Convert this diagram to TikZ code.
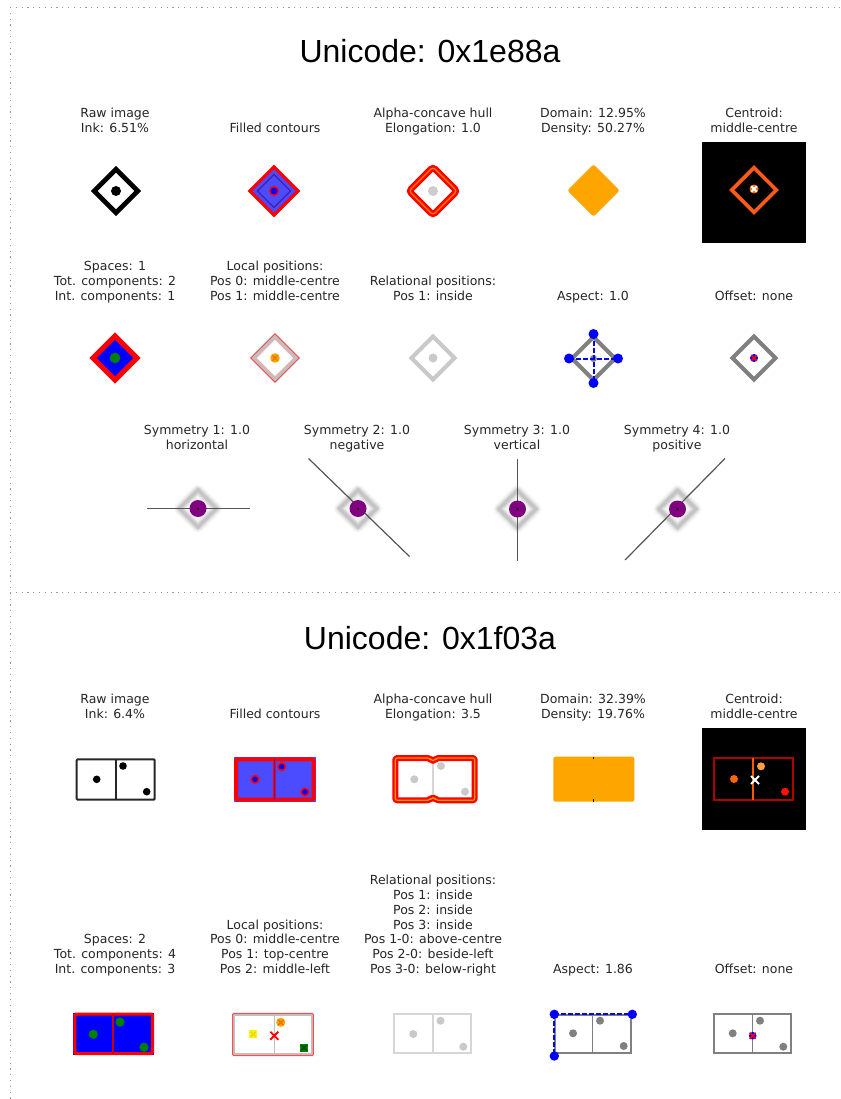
\documentclass[tikz,border=0pt]{standalone}
\usepackage{fontspec}
\setmainfont{DejaVu Sans}
\newfontfamily\titlefont{Liberation Sans}
\definecolor{txt}{HTML}{262626}
\definecolor{mblue}{HTML}{4B4BFF}
\definecolor{navy}{HTML}{4A1EAA}
\definecolor{orng}{HTML}{FFA500}
\definecolor{dorng}{HTML}{E07800}
\definecolor{purp}{HTML}{800080}
\definecolor{grn}{HTML}{008000}
\definecolor{lgray}{HTML}{C0C0C0}
\definecolor{vlgray}{HTML}{D6D6D6}
\definecolor{mgray}{HTML}{808080}
\definecolor{linegray}{HTML}{555555}
\definecolor{ored}{HTML}{FF5A1A}
\definecolor{dotline}{HTML}{9A9A9A}
\newcommand\dia[4][]{\draw[#1] (#2-#4,#3) -- (#2,#3-#4) -- (#2+#4,#3) -- (#2,#3+#4) -- cycle;}
\newcommand\xmk[4][]{\draw[#1] (#2-#4,#3-#4) -- (#2+#4,#3+#4) (#2-#4,#3+#4) -- (#2+#4,#3-#4);}
\newcommand\lblfont{\fontsize{12.5}{14.8}\selectfont}
\newcommand\blurdia[2]{%
  \dia[gray!8,line width=11,line join=round]{#1}{#2}{18.5}
  \dia[gray!18,line width=8,line join=round]{#1}{#2}{18.5}
  \dia[gray!32,line width=5.5,line join=round]{#1}{#2}{18.5}
  \dia[gray!46,line width=3]{#1}{#2}{18.5}}
\begin{document}
\begin{tikzpicture}[x=1pt,y=-1pt,
  lbl/.style={font=\lblfont, text=txt, align=center, inner sep=0pt, anchor=south},
  ttl/.style={font=\titlefont\fontsize{32}{36}\selectfont, inner sep=0pt, anchor=base},
  border/.style={dotline, line width=0.8, dash pattern=on 1.2pt off 4.6pt}]
\useasboundingbox (0,0) rectangle (840,1099);
\fill[white] (0,0) rectangle (840,1099);
% borders
\coordinate (tl) at (10,7);
\coordinate (tr) at (840,7);
\coordinate (bl) at (10,1099);
\coordinate (sl) at (10,592);
\coordinate (sr) at (840,592);
\draw[border] (tl) -- (tr);
\draw[border] (tl) -- (bl);
\draw[border] (sl) -- (sr);

% ================= SECTION 1 =================
\node[ttl] (t1) at (430,62.3) {Unicode: 0x1e88a};

% row 1 labels
\node[lbl] (a1) at (115,136.9) {Raw image\\Ink: 6.51\%\strut};
\node[lbl] (a2) at (275,136.9) {Filled contours\strut};
\node[lbl] (a3) at (433,136.9) {Alpha-concave hull\\Elongation: 1.0\strut};
\node[lbl] (a4) at (593,136.9) {Domain: 12.95\%\\Density: 50.27\%\strut};
\node[lbl] (a5) at (754,136.9) {Centroid:\\middle-centre\strut};

% raw image
\dia[black,line width=4.8]{116}{191}{21.8}
\fill[black] (116,191) circle (5);
% filled contours
\dia[fill=mblue,draw=red,line width=3.2]{274}{191}{24.2}
\dia[navy,line width=1.4]{274}{191}{16.5}
\filldraw[fill=blue,draw=red,line width=1.5] (274,191) circle (4.3);
% alpha hull
\dia[red,line width=6.5,rounded corners=3]{433}{191}{24}
\dia[orange,line width=1.3,rounded corners=3]{433}{191}{24}
\fill[lgray!80] (433,191) circle (5);
% domain
\dia[fill=orng,draw=orng,line width=1,rounded corners=2]{593.5}{190.5}{25.5}
% centroid
\fill[black] (702,142) rectangle (805.5,243);
\dia[ored,line width=3.6]{754}{190}{22.3}
\fill[orange!90!red] (754,189) circle (4.5);
\xmk[white,line width=1.8]{754}{189}{2.8}

% row 2 labels
\node[lbl] (b1) at (115,304.7) {Spaces: 1\\Tot. components: 2\\Int. components: 1\strut};
\node[lbl] (b2) at (275,304.7) {Local positions:\\Pos 0: middle-centre\\Pos 1: middle-centre\strut};
\node[lbl] (b3) at (433,304.7) {Relational positions:\\Pos 1: inside\strut};
\node[lbl] (b4) at (593,304.7) {Aspect: 1.0\strut};
\node[lbl] (b5) at (754,304.7) {Offset: none\strut};

% spaces
\dia[fill=blue,draw=red,line width=5]{115}{358}{22}
\fill[grn] (115,358) circle (5.3);
% local positions
\dia[lgray,line width=4]{275}{358}{21.5}
\dia[red!75,line width=0.9]{275}{358}{24.3}
\dia[red!35,line width=0.6]{275}{358}{18.7}
\fill[orng] (275,358) circle (4.8);
\xmk[dorng,line width=1.4]{275}{358}{2.6}
% relational
\dia[lgray!85,line width=4]{433}{358}{21.5}
\fill[lgray!85] (433,358) circle (4.5);
% aspect
\dia[mgray,line width=4]{593.5}{358.5}{21.5}
\fill[mgray] (593.5,358.5) circle (3.5);
\coordinate (aspL) at (569,358.5);
\coordinate (aspR) at (618,358.5);
\coordinate (aspT) at (593.5,334);
\coordinate (aspB) at (593.5,383);
\draw[blue,line width=2,dash pattern=on 4.5pt off 2.5pt] (aspL) -- (aspR);
\draw[blue,line width=2,dash pattern=on 4.5pt off 2.5pt] (aspT) -- (aspB);
\foreach \p in {aspL,aspR,aspT,aspB} \fill[blue] (\p) circle (5);
% offset
\dia[mgray,line width=4]{754}{358}{21.5}
\fill[blue] (754,358) circle (4);
\xmk[red,line width=1.5]{754}{358}{2.8}

% symmetry labels
\node[lbl] (c1) at (197,453.9) {Symmetry 1: 1.0\\horizontal\strut};
\node[lbl] (c2) at (357,453.9) {Symmetry 2: 1.0\\negative\strut};
\node[lbl] (c3) at (517,453.9) {Symmetry 3: 1.0\\vertical\strut};
\node[lbl] (c4) at (677,453.9) {Symmetry 4: 1.0\\positive\strut};

% sym 1
\blurdia{198}{508.5}
\coordinate (s1a) at (147,508.5);
\coordinate (s1b) at (249.5,508.5);
\draw[linegray,line width=1.2] (s1a) -- (s1b);
\fill[purp] (198,508.5) circle (8.5);
\fill[black] (198,508.5) circle (1.1);
% sym 2
\blurdia{358}{508.5}
\coordinate (s2a) at (308.5,458.5);
\coordinate (s2b) at (409.5,556.5);
\draw[linegray,line width=1.2] (s2a) -- (s2b);
\fill[purp] (358,508.5) circle (8.5);
\fill[black] (358,508.5) circle (1.1);
% sym 3
\blurdia{517.5}{509}
\coordinate (s3a) at (517.5,458.5);
\coordinate (s3b) at (517.5,560.5);
\draw[linegray,line width=1.2] (s3a) -- (s3b);
\fill[purp] (517.5,509) circle (8.5);
\fill[black] (517.5,509) circle (1.1);
% sym 4
\blurdia{677.5}{509}
\coordinate (s4a) at (625,560);
\coordinate (s4b) at (725,458.5);
\draw[linegray,line width=1.2] (s4a) -- (s4b);
\fill[purp] (677.5,509) circle (8.5);
\fill[black] (677.5,509) circle (1.1);

% ================= SECTION 2 =================
\node[ttl] (t2) at (430,649) {Unicode: 0x1f03a};

\node[lbl] (d1) at (115,723.4) {Raw image\\Ink: 6.4\%\strut};
\node[lbl] (d2) at (275,723.4) {Filled contours\strut};
\node[lbl] (d3) at (433,723.4) {Alpha-concave hull\\Elongation: 3.5\strut};
\node[lbl] (d4) at (593,723.4) {Domain: 32.39\%\\Density: 19.76\%\strut};
\node[lbl] (d5) at (754,723.4) {Centroid:\\middle-centre\strut};

% raw image
\draw[black!85,line width=2,rounded corners=1] (76.7,759.3) rectangle (154.7,799.7);
\draw[black!85,line width=2] (115.7,759.3) -- (115.7,799.7);
\fill[black] (96.7,779.3) circle (3.8);
\fill[black] (123,766) circle (3.8);
\fill[black] (146.7,791.7) circle (3.8);
% filled contours
\fill[mblue] (234,757.3) rectangle (315.7,801.7);
\draw[red,line width=4,rounded corners=1.5] (236,759.3) rectangle (313.7,799.7);
\draw[red,line width=3.5] (274.7,759.3) -- (274.7,799.7);
\draw[navy,line width=0.7] (274.7,759.3) -- (274.7,799.7);
\foreach \x/\y in {255/779.3, 281.7/766.7, 305/792}
  \filldraw[fill=blue,draw=red,line width=1.6] (\x,\y) circle (3.8);
% alpha hull
\draw[red,line width=6,line join=round,rounded corners=2] (395.3,758) -- (430,758) -- (431.2,760.8) -- (434.8,760.8) -- (436,758) -- (474.7,758) -- (474.7,800.3) -- (436,800.3) -- (434.8,797.5) -- (431.2,797.5) -- (430,800.3) -- (395.3,800.3) -- cycle;
\draw[orange!80!yellow,line width=1.2,line join=round,rounded corners=2] (395.3,758) -- (430,758) -- (431.2,760.8) -- (434.8,760.8) -- (436,758) -- (474.7,758) -- (474.7,800.3) -- (436,800.3) -- (434.8,797.5) -- (431.2,797.5) -- (430,800.3) -- (395.3,800.3) -- cycle;
\draw[vlgray,line width=1.5] (433,764) -- (433,794.5);
\foreach \x/\y in {414.3/779.3, 441/766, 465/791.7}
  \fill[lgray!85] (\x,\y) circle (4);
% domain
\fill[orng,rounded corners=2] (553.3,756.7) rectangle (634.3,801.7);
\draw[black,line width=0.8] (593.7,756.7) -- (593.7,759);
\draw[black,line width=0.8] (593.7,799.4) -- (593.7,801.7);
% centroid
\fill[black] (702,728.3) rectangle (805.7,830);
\draw[red!70!black,line width=2.2] (714,758.3) rectangle (793.3,800);
\draw[orange!70!red,line width=2] (753.3,758.3) -- (753.3,800);
\fill[orange!80!red] (734,779) circle (4);
\fill[orange!75!white] (761,766.3) circle (4);
\fill[red!85!orange] (785,791.7) circle (4);
\xmk[white,line width=2]{755}{780}{4}

% row 2 labels
\node[lbl] (e1) at (115,978.2) {Spaces: 2\\Tot. components: 4\\Int. components: 3\strut};
\node[lbl] (e2) at (275,978.2) {Local positions:\\Pos 0: middle-centre\\Pos 1: top-centre\\Pos 2: middle-left\strut};
\node[lbl] (e3) at (433,978.2) {Relational positions:\\Pos 1: inside\\Pos 2: inside\\Pos 3: inside\\Pos 1-0: above-centre\\Pos 2-0: beside-left\\Pos 3-0: below-right\strut};
\node[lbl] (e4) at (593,978.2) {Aspect: 1.86\strut};
\node[lbl] (e5) at (754,978.2) {Offset: none\strut};

% spaces
\fill[blue] (73.3,1012.7) rectangle (154,1055);
\draw[red,line width=3,rounded corners=1] (74.8,1014.2) rectangle (152.5,1053.5);
\draw[red!80!black,line width=1.6] (112.7,1014.2) -- (112.7,1053.5);
\foreach \x/\y in {93.3/1034.3, 120/1022, 144/1047.3}
  \fill[grn] (\x,\y) circle (4.6);
% local positions
\draw[lgray,line width=2] (234.2,1014.8) rectangle (311.8,1054.2);
\draw[red!70,line width=1,rounded corners=1] (232.7,1013.3) rectangle (313.3,1055.7);
\draw[lgray,line width=1.6] (274.3,1014.8) -- (274.3,1054.2);
\fill[yellow] (249.3,1030.3) rectangle (257.3,1038.3);
\xmk[yellow!85!black,line width=1]{253.3}{1034.3}{2.6}
\fill[orng] (280.7,1022.3) circle (4.6);
\xmk[dorng,line width=1.4]{280.7}{1022.3}{2.8}
\xmk[red,line width=1.8]{274.3}{1035.7}{4}
\fill[grn] (300,1043.7) rectangle (308,1051.7);
\xmk[green!25!black,line width=1.3]{304}{1047.7}{2.6}
% relational
\draw[vlgray,line width=2] (393.7,1014) rectangle (471.3,1053);
\draw[vlgray,line width=1.6] (433,1014) -- (433,1053);
\foreach \x/\y in {413.3/1034, 440.5/1020.7, 463.3/1046.7}
  \fill[lgray!85] (\x,\y) circle (4);
% aspect
\draw[mgray,line width=2] (555.3,1015.3) rectangle (631.3,1053);
\draw[mgray,line width=1.6] (592.3,1015.3) -- (592.3,1053);
\foreach \x/\y in {573/1033.3, 600/1020.7, 623.7/1046}
  \fill[mgray] (\x,\y) circle (4);
\coordinate (apA) at (554.3,1014.3);
\coordinate (apB) at (632.3,1014.3);
\coordinate (apC) at (554.3,1056);
\draw[blue,line width=2,dash pattern=on 4.5pt off 2.5pt] (apA) -- (apB);
\draw[blue,line width=2,dash pattern=on 4.5pt off 2.5pt] (apA) -- (apC);
\foreach \p in {apA,apB,apC} \fill[blue] (\p) circle (4.7);
% offset
\draw[mgray,line width=2] (714.3,1014.3) rectangle (790.7,1053);
\draw[mgray,line width=1.6] (752.3,1014.3) -- (752.3,1053);
\foreach \x/\y in {732.7/1033.3, 760/1020.7, 783.3/1046.7}
  \fill[mgray] (\x,\y) circle (4);
\fill[blue] (752.7,1035.7) circle (3.8);
\xmk[red,line width=1.6]{752.7}{1035.7}{3}
\end{tikzpicture}
\end{document}
